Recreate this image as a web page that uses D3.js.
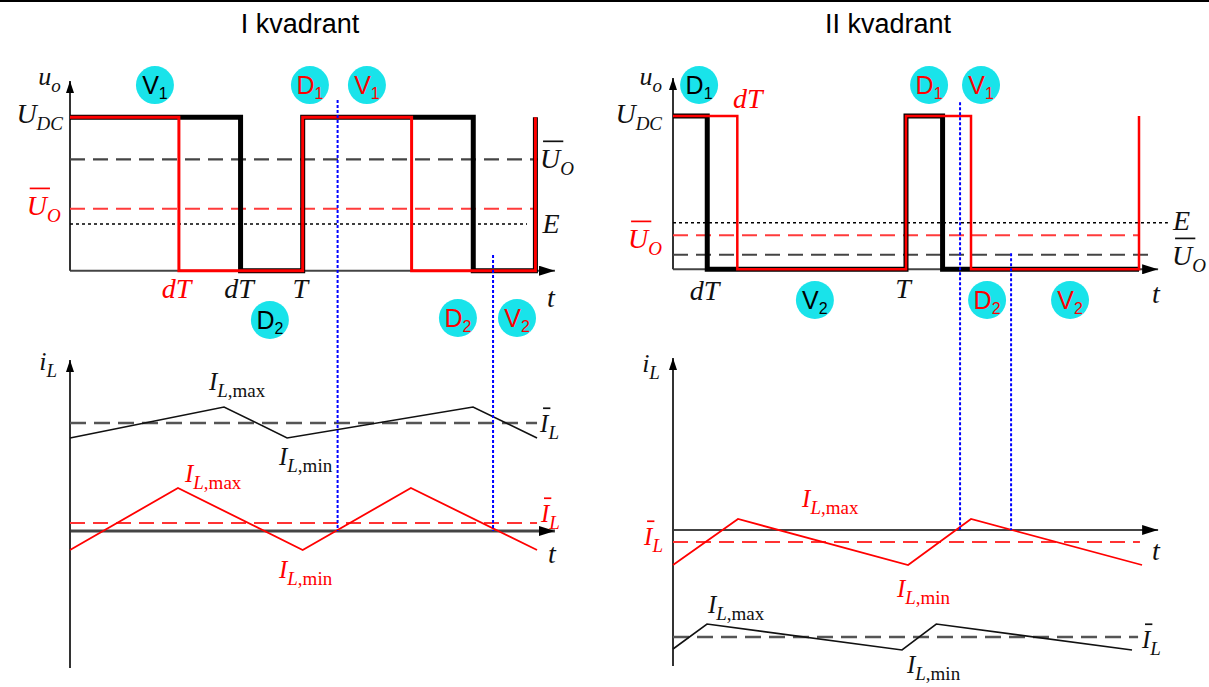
<!DOCTYPE html>
<html>
<head>
<meta charset="utf-8">
<script src="https://cdn.jsdelivr.net/npm/d3@7"></script>
<style>
body { margin: 0; background: #fff; }
</style>
</head>
<body>
<div id="chart"></div>
<script>
// time in periods T, voltage in units of U_DC, current in arbitrary units

// output voltage u_o, [t, u]
var q1BlackU = [[0,1],[0.733,1],[0.733,0],[1,0],[1,1],[1.733,1],[1.733,0],[2,0],[2,1]];
var q1RedU   = [[0,1],[0.468,1],[0.468,0],[1,0],[1,1],[1.468,1],[1.468,0],[2,0],[2,1]];
var q2BlackU = [[0,1],[0.147,1],[0.147,0],[1,0],[1,1],[1.157,1],[1.157,0],[2,0]];
var q2RedU   = [[0,1],[0.276,1],[0.276,0],[1,0],[1,1],[1.279,1],[1.279,0],[2,0],[2,1]];

// mean voltage [black, red] and back emf E
var q1MeanU = [0.726, 0.404];
var q2MeanU = [0.095, 0.222];
var emfU = [0.304, 0.304];

// inductor current i_L, [t, i]
var q1BlackI = [[0,9.3],[0.662,12.4],[0.933,9.3],[1.732,12.4],[2.007,9.3]];
var q1RedI   = [[0,-1.9],[0.464,4.3],[1,-1.9],[1.465,4.3],[2.007,-1.9]];
var q2RedI   = [[0,-3.5],[0.279,1.1],[1.009,-3.5],[1.279,1.1],[2.013,-3.5]];
var q2BlackI = [[0,-11.9],[0.146,-9.4],[0.983,-12],[1.13,-9.4],[1.97,-12]];

// mean current [black, red]
var q1MeanI = [10.8, 0.8];
var q2MeanI = [-10.7, -1.2];

// blue markers: [t, u where it starts], they run down to i = 0
var q1Marks = [[1.150,1.113],[1.818,0.102]];
var q2Marks = [[1.232,1.09],[1.451,0.105]];

// conducting devices [t, u, name, index, red?]
var q1Devices = [[0.365,1.21,"V","1",0],[1.031,1.21,"D","1",1],[1.276,1.21,"V","1",1],
                 [0.859,-0.321,"D","2",0],[1.667,-0.308,"D","2",1],[1.921,-0.308,"V","2",1]];
var q2Devices = [[0.112,1.202,"D","1",0],[0.609,-0.2,"V","2",0],[1.099,1.202,"D","1",1],
                 [1.322,1.202,"V","1",1],[1.348,-0.2,"D","2",1],[1.704,-0.2,"V","2",1]];

// labels [t, value, main, sub, tail, anchor, red?, bar?]
var q1ULabels = [[-0.04,1.21,"u","o","","end",0,0],[-0.03,0.962,"U","DC","","end",0,0],
                 [-0.04,0.363,"U","O","","end",1,1],[2.02,0.67,"U","O","","start",0,1],
                 [2.03,0.246,"E","","","start",0,0],[0.458,-0.178,"dT","","","middle",1,0],
                 [0.726,-0.178,"dT","","","middle",0,0],[0.99,-0.178,"T","","","middle",0,0],
                 [2.05,-0.237,"t","","","start",0,0]];
var q1ILabels = [[-0.056,16.1,"i","L","","end",0,0],[0.597,14.1,"I","L",",max","start",0,0],
                 [0.898,6.6,"I","L",",min","start",0,0],[2.02,9.9,"I","L","","start",0,1],
                 [0.494,4.9,"I","L",",max","start",1,0],[0.898,-4.7,"I","L",",min","start",1,0],
                 [2.024,0.9,"I","L","","start",1,1],[2.054,-3.2,"t","","","start",0,0]];
var q2ULabels = [[-0.047,1.2,"u","o","","end",0,0],[-0.047,0.955,"U","DC","","end",0,0],
                 [-0.047,0.139,"U","O","","end",1,1],[0.258,1.052,"dT","","","start",1,0],
                 [0.135,-0.2,"dT","","","middle",0,0],[0.987,-0.19,"T","","","middle",0,0],
                 [2.056,-0.22,"t","","","start",0,0],[2.146,0.255,"E","","","start",0,0],
                 [2.142,0.028,"U","O","","start",0,1]];
var q2ILabels = [[-0.056,15.8,"i","L","","end",0,0],[0.554,2.3,"I","L",",max","start",1,0],
                 [0.961,-6.7,"I","L",",min","start",1,0],[-0.043,-1.5,"I","L","","end",1,1],
                 [0.15,-8.3,"I","L",",max","start",0,0],[1.004,-14.3,"I","L",",min","start",0,0],
                 [2.013,-11.8,"I","L","","start",0,1],[2.056,-3.0,"t","","","start",0,0]];

var RED = "#ff0000", CYAN = "#19e3ea";
var serif = "'Liberation Serif','Times New Roman',serif";
var sans = "'Liberation Sans',Arial,sans-serif";
var mainSize = {"u":26, "i":26, "I":25, "U":28};

var panels = [
  {title:"I kvadrant", titleX:300, x0:70, x2T:535.4, uZero:270.7, uOne:117.3, iZero:531,
   bw:q1BlackU, rw:q1RedU, redW:3, meanU:q1MeanU, E:emfU[0], uEnds:[2.011,1.998,1.964],
   uTip:1.237, tTip:2.084, bi:q1BlackI, ri:q1RedI, meanI:q1MeanI, iEnds:[2.007,2.007],
   iBottom:-13.7, iTip:17.1, iAxisW:3, marks:q1Marks, devices:q1Devices,
   uLabels:q1ULabels, iLabels:q1ILabels},
  {title:"II kvadrant", titleX:888, x0:673, x2T:1139, uZero:269.3, uOne:116, iZero:530,
   bw:q2BlackU, rw:q2RedU, redW:2.5, meanU:q2MeanU, E:emfU[1], uEnds:[2.056,1.996,2.124],
   uTip:1.248, tTip:2.082, bi:q2BlackI, ri:q2RedI, meanI:q2MeanI, iEnds:[1.996,2.004],
   iBottom:-13.6, iTip:17.2, iAxisW:2.2, marks:q2Marks, devices:q2Devices,
   uLabels:q2ULabels, iLabels:q2ILabels}
];

var svg = d3.select("#chart").append("svg")
    .attr("width", 1209)
    .attr("height", 687);

var defs = svg.append("defs");
defs.append("marker").attr("id","arrX")
    .attr("viewBox","0 0 16 10").attr("refX",16).attr("refY",5)
    .attr("markerWidth",16).attr("markerHeight",10)
    .attr("markerUnits","userSpaceOnUse").attr("orient","auto")
    .append("path").attr("d","M0,0L16,5L0,10Z").attr("fill","#000");
defs.append("marker").attr("id","arrY")
    .attr("viewBox","0 0 12 8").attr("refX",12).attr("refY",4)
    .attr("markerWidth",12).attr("markerHeight",8)
    .attr("markerUnits","userSpaceOnUse").attr("orient","auto")
    .append("path").attr("d","M0,0L12,4L0,8Z").attr("fill","#000");

svg.append("line")
    .attr("x1",0).attr("x2",1209).attr("y1",1).attr("y2",1)
    .attr("stroke","#000").attr("stroke-width",2);

function mathLabel(g, px, py, d) {
    var col = d[6] ? RED : "#111";
    var ms = mainSize[d[2]] || 28;
    var t = g.append("text")
        .attr("x", px).attr("y", py)
        .attr("fill", col)
        .attr("text-anchor", d[5])
        .style("font-family", serif);
    t.append("tspan").style("font-style","italic").style("font-size", ms+"px").text(d[2]);
    if (d[3]) t.append("tspan").attr("dy",7).style("font-style","italic").style("font-size","19px").text(d[3]);
    if (d[4]) t.append("tspan").style("font-size","19px").text(d[4]);
    if (d[7]) {
        var n = t.node();
        var s = n.getStartPositionOfChar(0).x, e = n.getEndPositionOfChar(0).x;
        var x1 = s + 3;
        var x2 = d[2] == "I" ? e + 2 : e + 3;
        g.append("line")
            .attr("x1", x1).attr("x2", x2)
            .attr("y1", py - ms*0.95).attr("y2", py - ms*0.95)
            .attr("stroke", col).attr("stroke-width", 1.7);
    }
}

panels.forEach(function(p) {
    var x = d3.scaleLinear().domain([0,2]).range([p.x0, p.x2T]);
    var yU = d3.scaleLinear().domain([0,1]).range([p.uZero, p.uOne]);
    var yI = d3.scaleLinear().domain([0,10]).range([p.iZero, p.iZero - 100]);
    var g = svg.append("g");

    g.append("text")
        .attr("x", p.titleX).attr("y", 33)
        .attr("text-anchor","middle")
        .style("font-family", sans).style("font-size","27px")
        .text(p.title);

    // voltage axes
    g.append("line")
        .attr("x1", x(0)).attr("x2", x(p.tTip)).attr("y1", yU(0)).attr("y2", yU(0))
        .attr("stroke","#444").attr("stroke-width",2).attr("marker-end","url(#arrX)");
    g.append("line")
        .attr("x1", x(0)).attr("x2", x(0)).attr("y1", yU(0)).attr("y2", yU(p.uTip))
        .attr("stroke","#333").attr("stroke-width",2).attr("marker-end","url(#arrY)");

    // mean voltages and E
    g.append("line")
        .attr("x1", x(0)).attr("x2", x(p.uEnds[0])).attr("y1", yU(p.meanU[0])).attr("y2", yU(p.meanU[0]))
        .attr("stroke","#444").attr("stroke-width",2.2).attr("stroke-dasharray","15,8");
    g.append("line")
        .attr("x1", x(0)).attr("x2", x(p.uEnds[1])).attr("y1", yU(p.meanU[1])).attr("y2", yU(p.meanU[1]))
        .attr("stroke","#ff3b3b").attr("stroke-width",2).attr("stroke-dasharray","15,8");
    g.append("line")
        .attr("x1", x(0)).attr("x2", x(p.uEnds[2])).attr("y1", yU(p.E)).attr("y2", yU(p.E))
        .attr("stroke","#000").attr("stroke-width",1.6).attr("stroke-dasharray","3,3");

    var lineU = d3.line().x(d => x(d[0])).y(d => yU(d[1]));
    g.append("path").attr("d", lineU(p.bw))
        .attr("fill","none").attr("stroke","#000").attr("stroke-width",5);
    g.append("path").attr("d", lineU(p.rw))
        .attr("fill","none").attr("stroke",RED).attr("stroke-width",p.redW);

    // current axes
    g.append("line")
        .attr("x1", x(0)).attr("x2", x(p.tTip)).attr("y1", yI(0)).attr("y2", yI(0))
        .attr("stroke","#444").attr("stroke-width",p.iAxisW).attr("marker-end","url(#arrX)");
    g.append("line")
        .attr("x1", x(0)).attr("x2", x(0)).attr("y1", yI(p.iBottom)).attr("y2", yI(p.iTip))
        .attr("stroke","#333").attr("stroke-width",2).attr("marker-end","url(#arrY)");

    g.append("line")
        .attr("x1", x(0)).attr("x2", x(p.iEnds[0])).attr("y1", yI(p.meanI[0])).attr("y2", yI(p.meanI[0]))
        .attr("stroke","#555").attr("stroke-width",2.5).attr("stroke-dasharray","16,8");
    g.append("line")
        .attr("x1", x(0)).attr("x2", x(p.iEnds[1])).attr("y1", yI(p.meanI[1])).attr("y2", yI(p.meanI[1]))
        .attr("stroke","#ff3333").attr("stroke-width",2).attr("stroke-dasharray","15,8");

    var lineI = d3.line().x(d => x(d[0])).y(d => yI(d[1]));
    g.append("path").attr("d", lineI(p.bi))
        .attr("fill","none").attr("stroke","#111").attr("stroke-width",1.6);
    g.append("path").attr("d", lineI(p.ri))
        .attr("fill","none").attr("stroke",RED).attr("stroke-width",1.8);

    // blue markers linking both plots
    g.selectAll(null).data(p.marks).enter()
        .append("line")
        .attr("x1", d => x(d[0])).attr("x2", d => x(d[0]))
        .attr("y1", d => yU(d[1])).attr("y2", yI(0))
        .attr("stroke","#0000ff").attr("stroke-width",2).attr("stroke-dasharray","3,2");

    // devices
    p.devices.forEach(function(d) {
        var cx = x(d[0]), cy = yU(d[1]);
        g.append("circle").attr("cx",cx).attr("cy",cy).attr("r",19).attr("fill",CYAN);
        var t = g.append("text")
            .attr("x", cx).attr("y", cy + 9)
            .attr("text-anchor","middle")
            .attr("fill", d[4] ? RED : "#000")
            .style("font-family", sans);
        t.append("tspan").style("font-size","25px").text(d[2]);
        t.append("tspan").attr("dy",5).style("font-size","16px").text(d[3]);
    });

    p.uLabels.forEach(d => mathLabel(g, x(d[0]), yU(d[1]), d));
    p.iLabels.forEach(d => mathLabel(g, x(d[0]), yI(d[1]), d));
});
</script>
</body>
</html>
